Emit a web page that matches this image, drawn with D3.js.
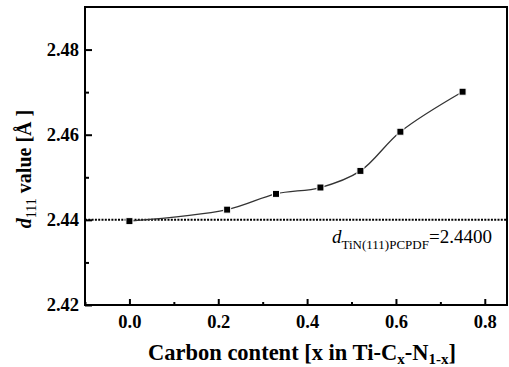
<!DOCTYPE html>
<html>
<head>
<meta charset="UTF-8">
<script src="https://d3js.org/d3.v7.min.js"></script>
<style>
  svg text { font-family: "Liberation Serif", "Times New Roman", Times, serif !important; }
</style>
</head>
<body style="margin:0; background:#fff">
<script>
// data
const carbon = [0.0, 0.22, 0.33, 0.43, 0.52, 0.61, 0.75];
const d111 = [2.4397, 2.4424, 2.4461, 2.4476, 2.4515, 2.4607, 2.4701];
const refValue = 2.44;
const xTicks = [0.0, 0.2, 0.4, 0.6, 0.8];
const xMinor = [-0.1, 0.1, 0.3, 0.5, 0.7];
const yTicks = [2.42, 2.44, 2.46, 2.48];
const yMinor = [2.43, 2.45, 2.47];

const W = 509, H = 367;
const m = { left: 85, top: 7, right: 2, bottom: 62 };

const svg = d3.select("body").append("svg")
  .attr("width", W)
  .attr("height", H)
  .attr("font-family", "Liberation Serif");

const x = d3.scaleLinear().domain([-0.1, 0.85]).range([m.left, W - m.right]);
const y = d3.scaleLinear().domain([2.42, 2.49]).range([H - m.bottom, m.top]);

// x axis
svg.append("g")
  .attr("transform", `translate(0,${H - m.bottom})`)
  .call(d3.axisBottom(x).tickValues(xTicks).tickSizeInner(-6).tickSizeOuter(0)
    .tickFormat(d3.format(".1f")).tickPadding(10));
svg.append("g")
  .attr("transform", `translate(0,${H - m.bottom})`)
  .call(d3.axisBottom(x).tickValues(xMinor).tickSizeInner(-3).tickSizeOuter(0).tickFormat(""));

// y axis
svg.append("g")
  .attr("transform", `translate(${m.left},0)`)
  .call(d3.axisLeft(y).tickValues(yTicks).tickSizeInner(-7).tickSizeOuter(0)
    .tickFormat(d3.format(".2f")).tickPadding(6));
svg.append("g")
  .attr("transform", `translate(${m.left},0)`)
  .call(d3.axisLeft(y).tickValues(yMinor).tickSizeInner(-4).tickSizeOuter(0).tickFormat(""));

svg.selectAll(".domain").remove();
svg.selectAll("g").attr("font-family", null);
svg.selectAll(".tick line").attr("stroke", "#000").attr("stroke-width", 2);
svg.selectAll(".tick text")
  .attr("fill", "#000")
  .attr("font-size", 18.5)
  .attr("font-weight", "bold");

// frame
svg.append("rect")
  .attr("x", x(-0.1))
  .attr("y", y(2.49))
  .attr("width", x(0.85) - x(-0.1))
  .attr("height", y(2.42) - y(2.49))
  .attr("fill", "none")
  .attr("stroke", "#000")
  .attr("stroke-width", 2);

// reference line
svg.append("line")
  .attr("x1", x(-0.1)).attr("x2", x(0.85))
  .attr("y1", y(refValue)).attr("y2", y(refValue))
  .attr("stroke", "#000")
  .attr("stroke-width", 2)
  .attr("stroke-dasharray", "2,1.3");

// spline
const pts = carbon.map((c, i) => [c, d111[i]]);
svg.append("path")
  .datum(pts)
  .attr("fill", "none")
  .attr("stroke", "#333")
  .attr("stroke-width", 1.3)
  .attr("d", d3.line().x(d => x(d[0])).y(d => y(d[1])).curve(d3.curveCatmullRom.alpha(0.5)));

// markers
const s = 7;
svg.selectAll(".pt")
  .data(pts)
  .enter().append("rect")
  .attr("class", "pt")
  .attr("x", d => x(d[0]) - s / 2)
  .attr("y", d => y(d[1]) - s / 2)
  .attr("width", s)
  .attr("height", s)
  .attr("fill", "#000")
  .attr("stroke", "#fff")
  .attr("stroke-width", 1);

// annotation
const ann = svg.append("text")
  .attr("x", 332)
  .attr("y", 243)
  .attr("font-size", 19);
ann.append("tspan").attr("font-style", "italic").text("d");
ann.append("tspan").attr("dy", 6).attr("font-size", 13).text("TiN(111)PCPDF");
ann.append("tspan").attr("dy", -6).text("=2.4400");

// x title
const xt = svg.append("text")
  .attr("x", 148)
  .attr("y", 360)
  .attr("font-size", 22.5)
  .attr("font-weight", "bold");
xt.append("tspan").text("Carbon content [x in Ti-C");
xt.append("tspan").attr("dy", 4).attr("font-size", 15).text("x");
xt.append("tspan").attr("dy", -4).text("-N");
xt.append("tspan").attr("dy", 4).attr("font-size", 15).text("1-x");
xt.append("tspan").attr("dy", -4).text("]");

// y title
const yt = svg.append("text")
  .attr("transform", `translate(31,169) rotate(-90)`)
  .attr("text-anchor", "middle")
  .attr("font-size", 20)
  .attr("font-weight", "bold");
yt.append("tspan").attr("font-style", "italic").text("d");
yt.append("tspan").attr("dy", 5).attr("font-size", 14).attr("font-weight", "normal").text("111");
yt.append("tspan").attr("dy", -5).text(" value [Å ]");
</script>
</body>
</html>
